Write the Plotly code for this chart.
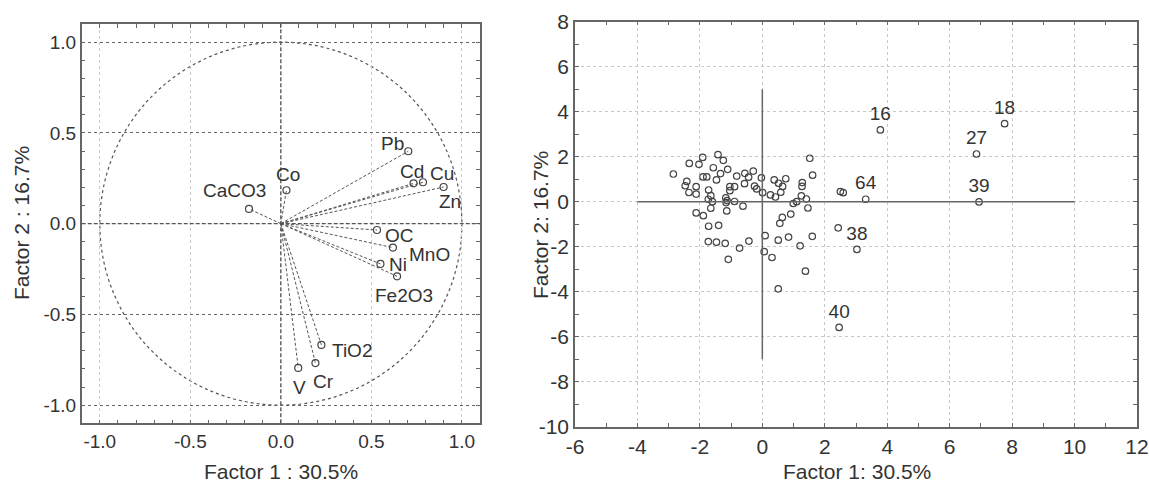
import plotly.graph_objects as go

# ---------------- Left panel: variable loadings ----------------
variables = ["Pb", "Cd", "Cu", "Zn", "Co", "CaCO3", "OC", "MnO", "Ni", "Fe2O3", "TiO2", "Cr", "V"]
factor1_load = [0.704, 0.733, 0.785, 0.899, 0.031, -0.176, 0.531, 0.619, 0.550, 0.642, 0.224, 0.191, 0.096]
factor2_load = [0.399, 0.222, 0.228, 0.202, 0.184, 0.081, -0.035, -0.132, -0.222, -0.290, -0.668, -0.768, -0.795]
# label offsets (pixels, style only): (dx right, dy down)
load_label_offset = [(-16, -8), (-2, -12), (19, -9), (6, 15), (2, -16), (-14, -18),
                     (23, 6), (37, 7), (18, 1), (7, 19), (31, 6), (8, 18), (1, 20)]
load_tickvals = [-1.0, -0.5, 0.0, 0.5, 1.0]
load_ticktext = ["-1.0", "-0.5", "0.0", "0.5", "1.0"]

# ---------------- Right panel: case scores ----------------
score_f1 = [-2.85, -2.34, -2.03, -1.91, -1.42, -1.25, -1.57, -1.11, -1.34, -1.90,
            -1.78, -1.47, -2.42, -2.47, -2.12, -2.35, -2.12, -1.72, -1.65, -1.73,
            -1.60, -1.65, -2.12, -1.89, -1.72, -1.40, -1.73, -1.47, -1.19, -1.09,
            -0.73, -0.43, -1.14, -1.17, -1.13, -1.16, -0.89, -0.62, -1.04, -0.89,
            -1.04, -0.82, -0.56, -0.44, -0.29, -0.57, -0.25, -0.18, -0.03, 0.01,
            0.26, 0.38, 0.52, 0.65, 0.75, 0.42, 0.59, 1.28, 1.27, 1.25,
            1.10, 0.99, 1.41, 1.52, 1.61, 1.46, 0.91, 0.64, 0.56, 0.09,
            0.51, 0.84, 1.21, 1.60, 0.06, 0.31, 1.38, 0.51, 3.78, 7.76,
            6.86, 6.94, 3.31, 2.50, 2.59, 3.03, 2.43, 2.46]
score_f2 = [1.23, 1.70, 1.66, 1.97, 2.09, 1.84, 1.51, 1.44, 1.25, 1.10,
            1.10, 0.97, 0.90, 0.71, 0.67, 0.41, 0.34, 0.52, 0.27, 0.11,
            0.00, -0.29, -0.50, -0.62, -1.09, -1.05, -1.77, -1.80, -1.85, -2.56,
            -2.06, -1.75, -0.41, 0.17, 0.05, -0.04, 0.01, -0.20, 0.67, 0.67,
            0.49, 1.14, 1.26, 1.09, 1.36, 0.80, 0.69, 0.57, 1.06, 0.40,
            0.30, 0.97, 0.82, 0.68, 1.02, 0.21, 0.42, 0.85, 0.68, 0.26,
            0.00, -0.08, 0.12, 1.93, 1.18, -0.28, -0.55, -0.70, -0.96, -1.51,
            -1.71, -1.57, -1.96, -1.54, -2.22, -2.48, -3.09, -3.87, 3.19, 3.47,
            2.12, -0.01, 0.11, 0.45, 0.40, -2.12, -1.16, -5.59]
score_labels = [""] * 78 + ["16", "18", "27", "39", "64", "", "", "38", "", "40"]
score_xtickvals = [-6, -4, -2, 0, 2, 4, 6, 8, 10, 12]
score_xticktext = ["-6", "-4", "-2", "0", "2", "4", "6", "8", "10", "12"]
score_ytickvals = [8, 6, 4, 2, 0, -2, -4, -6, -8, -10]
score_yticktext = ["8", "6", "4", "2", "0", "-2", "-4", "-6", "-8", "-10"]
cross_x_extent = [-4, 10]
cross_y_extent = [-7, 5]

x_title_left = "Factor 1 : 30.5%"
y_title_left = "Factor 2 : 16.7%"
x_title_right = "Factor 1: 30.5%"
y_title_right = "Factor 2: 16.7%"

FONT = "Liberation Sans, Arial, sans-serif"
TXT = "#333333"
DARK = "#555555"
AX = "#666666"
LIGHT = "#c8c8c8"
W, H = 1149, 484

fig = go.Figure()

# vectors from origin
vx, vy = [], []
for a, b in zip(factor1_load, factor2_load):
    vx += [0, a, None]
    vy += [0, b, None]
fig.add_trace(go.Scatter(x=vx, y=vy, mode="lines", xaxis="x", yaxis="y",
                         line=dict(color=DARK, width=1, dash="3px,2px"),
                         hoverinfo="skip", showlegend=False))
fig.add_trace(go.Scatter(x=factor1_load, y=factor2_load, mode="markers", text=variables,
                         xaxis="x", yaxis="y",
                         marker=dict(symbol="circle-open", size=7, color="#444444", line=dict(width=1.2)),
                         showlegend=False))
for name, a, b, (dx, dy) in zip(variables, factor1_load, factor2_load, load_label_offset):
    fig.add_annotation(x=a, y=b, xref="x", yref="y", text=name, showarrow=False,
                       xshift=dx, yshift=-dy, xanchor="center", yanchor="middle",
                       font=dict(family=FONT, size=19, color=TXT))

fig.add_trace(go.Scatter(x=score_f1, y=score_f2, mode="markers+text", text=score_labels,
                         textposition="top center", xaxis="x2", yaxis="y2",
                         textfont=dict(family=FONT, size=19, color=TXT),
                         marker=dict(symbol="circle-open", size=6.5, color="#444444", line=dict(width=1.2)),
                         showlegend=False))

# domains in pixels
L_dom_x = [81.7 / W, 480 / W]
L_dom_y = [(H - 423.3) / H, (H - 24) / H]
R_dom_x = [575 / W, 1137 / W]
R_dom_y = [(H - 426.7) / H, (H - 21.7) / H]

def axis_style(size):
    return dict(showline=True, linecolor=AX, linewidth=1.5, mirror="ticks",
                ticks="inside", ticklen=4, tickcolor=AX, tickwidth=1,
                zeroline=False, automargin=False, ticklabeloverflow="allow",
                tickfont=dict(family=FONT, color=TXT, size=size))

fig.update_layout(
    width=W, height=H, margin=dict(l=0, r=0, t=0, b=0),
    paper_bgcolor="white", plot_bgcolor="white", showlegend=False,
    xaxis=dict(domain=L_dom_x, range=[-1.1, 1.1], tickvals=load_tickvals, ticktext=load_ticktext,
               showgrid=True, gridcolor=LIGHT, griddash="dot", gridwidth=1,
               minor=dict(dtick=0.1, ticks="inside", ticklen=4, tickcolor=AX, showgrid=False),
               anchor="y", **axis_style(19)),
    yaxis=dict(domain=L_dom_y, range=[-1.1, 1.1], tickvals=load_tickvals, ticktext=load_ticktext,
               showgrid=True, gridcolor=AX, griddash="dot", gridwidth=1,
               minor=dict(dtick=0.1, ticks="inside", ticklen=4, tickcolor=AX, showgrid=False),
               anchor="x", **axis_style(19)),
    xaxis2=dict(domain=R_dom_x, range=[-6, 12], tickvals=score_xtickvals, ticktext=score_xticktext,
                showgrid=True, gridcolor=LIGHT, griddash="dot", gridwidth=1,
                minor=dict(dtick=1, ticks="inside", ticklen=4, tickcolor=AX, showgrid=False),
                anchor="y2", **axis_style(21)),
    yaxis2=dict(domain=R_dom_y, range=[-10, 8], tickvals=score_ytickvals, ticktext=score_yticktext,
                showgrid=True, gridcolor=LIGHT, griddash="dot", gridwidth=1,
                minor=dict(dtick=1, ticks="inside", ticklen=4, tickcolor=AX, showgrid=False),
                anchor="x2", **axis_style(21)),
)

# reference lines / circle (left)
fig.add_shape(type="circle", xref="x", yref="y", x0=-1, x1=1, y0=-1, y1=1,
              line=dict(color=DARK, width=1.2, dash="dot"), layer="below")
fig.add_shape(type="line", xref="x", yref="y domain", x0=0, x1=0, y0=0, y1=1,
              line=dict(color=DARK, width=1.3, dash="4px,2px"))
fig.add_shape(type="line", xref="x domain", yref="y", x0=0, x1=1, y0=0, y1=0,
              line=dict(color=DARK, width=1.3, dash="4px,2px"))
# cross axes (right)
fig.add_shape(type="line", xref="x2", yref="y2", x0=cross_x_extent[0], x1=cross_x_extent[1], y0=0, y1=0,
              line=dict(color=AX, width=1.5))
fig.add_shape(type="line", xref="x2", yref="y2", x0=0, x1=0, y0=cross_y_extent[0], y1=cross_y_extent[1],
              line=dict(color=AX, width=1.5))

# axis titles as annotations
tf = dict(family=FONT, size=21, color=TXT)
fig.add_annotation(text=x_title_left, xref="paper", yref="paper", x=281 / W, y=(H - 471) / H,
                   showarrow=False, font=tf, xanchor="center", yanchor="middle")
fig.add_annotation(text=y_title_left, xref="paper", yref="paper", x=22 / W, y=(H - 223) / H,
                   showarrow=False, font=tf, textangle=-90, xanchor="center", yanchor="middle")
fig.add_annotation(text=x_title_right, xref="paper", yref="paper", x=857 / W, y=(H - 471) / H,
                   showarrow=False, font=tf, xanchor="center", yanchor="middle")
fig.add_annotation(text=y_title_right, xref="paper", yref="paper", x=541 / W, y=(H - 225) / H,
                   showarrow=False, font=tf, textangle=-90, xanchor="center", yanchor="middle")

fig.write_html("out.html", config={"displayModeBar": False},
               post_script="document.body.style.margin='0';")
